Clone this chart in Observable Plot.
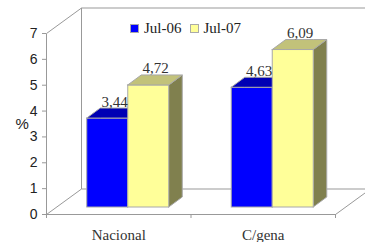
<!DOCTYPE html>
<html>
<head>
<meta charset="utf-8">
<script src="https://cdn.jsdelivr.net/npm/d3@7"></script>
<script src="https://cdn.jsdelivr.net/npm/@observablehq/plot@0.6"></script>
<style>
  html, body { margin: 0; padding: 0; background: #fff; }
  #wrap { position: relative; width: 365px; height: 242px; }
  #legend { position: absolute; left: 130px; top: 19px; font: 15px "Liberation Serif", serif; color: #222; display: flex; align-items: center; white-space: nowrap; line-height: 18px; }
  #legend .sw { display: inline-block; width: 7px; height: 7px; border: 1px solid #aaa; margin-right: 5px; }
  #legend .item { display: flex; align-items: center; margin-right: 8px; }
</style>
</head>
<body>
<div id="wrap"></div>
<script>
// ---- data ----
const categories = ["Nacional", "C/gena"];
const series = ["Jul-06", "Jul-07"];
const jul06 = [3.44, 4.63];
const jul07 = [4.72, 6.09];
const yTicks = [0, 1, 2, 3, 4, 5, 6, 7];

// ---- styling ----
const frontColors = ["#0000FF", "#FFFF99"];
const topColors = ["#0000B4", "#C2C27A"];
const sideColors = ["#000090", "#80804E"];
const edge = "#A8A8A8";
const wallColor = "#999";
const serif = "'Liberation Serif', 'Times New Roman', serif";
const sans = "'Liberation Sans', Arial, sans-serif";

const W = 365, H = 242;
const mL = 46, mR = 30, mT = 33, mB = 28;
const kx = (W - mL - mR) / 2;         // px per x unit
const ky = (H - mT - mB) / 7;         // px per y unit
const WX = 35 / kx, WY = 25.5 / ky;   // wall depth in data units
const BX = 13.5 / kx, BY = 10 / ky;   // bar depth
const BW = 41 / kx;                   // bar width
const OFFX = 9.5, OFFY = -7;          // bar front-face placement inside the depth

const values = [jul06, jul07];
const bars = [];
series.forEach((s, j) => {
  categories.forEach((c, i) => {
    const x1 = i + 0.5 + (j - 1) * BW;
    bars.push({id: c + s, cat: c, series: s, j, value: values[j][i], x1, x2: x1 + BW});
  });
});

function sidePts(b) {
  return [
    {id: b.id, x: b.x2, y1: 0, y2: b.value},
    {id: b.id, x: b.x2 + BX, y1: BY, y2: b.value + BY}
  ];
}
function topPts(b) {
  const t = b.value;
  return [
    {id: b.id, x: b.x1, y1: t, y2: t},
    {id: b.id, x: b.x1 + BX, y1: t, y2: t + BY},
    {id: b.id, x: b.x2, y1: t, y2: t + BY},
    {id: b.id, x: b.x2 + BX, y1: t + BY, y2: t + BY}
  ];
}

const walls = [
  [0, 0, 0, 7],
  [0, 7, WX, 7 + WY],
  [WX, WY, WX, 7 + WY],
  [WX, 7 + WY, 2 + WX, 7 + WY],
  [0, 0, 2, 0],
  [0, 0, WX, WY],
  [WX, WY, 2 + WX, WY],
  [2, 0, 2 + WX, WY]
];

const barMarks = [];
series.forEach((s, j) => {
  const bs = bars.filter(b => b.j === j);
  barMarks.push(
    Plot.areaY(bs.flatMap(sidePts), {x: "x", y1: "y1", y2: "y2", z: "id", fill: sideColors[j], stroke: edge, strokeWidth: 1, dx: OFFX, dy: OFFY}),
    Plot.rect(bs, {x1: "x1", x2: "x2", y1: 0, y2: "value", fill: frontColors[j], stroke: edge, strokeWidth: 1, dx: OFFX, dy: OFFY}),
    Plot.areaY(bs.flatMap(topPts), {x: "x", y1: "y1", y2: "y2", z: "id", fill: topColors[j], stroke: edge, strokeWidth: 1, dx: OFFX, dy: OFFY})
  );
});

const fmt = v => v.toFixed(2).replace(".", ",");

const chart = Plot.plot({
  width: W,
  height: H,
  marginLeft: mL,
  marginRight: mR,
  marginTop: mT,
  marginBottom: mB,
  x: {domain: [0, 2], axis: null},
  y: {domain: [0, 7], axis: null},
  style: {background: "#fff", overflow: "visible"},
  marks: [
    Plot.link(walls, {x1: d => d[0], y1: d => d[1], x2: d => d[2], y2: d => d[3], stroke: wallColor, strokeWidth: 1}),
    Plot.ruleY(yTicks, {x1: 0, x2: -4 / kx, stroke: wallColor}),
    Plot.ruleX([0, 1, 2], {y1: 0, y2: -4 / ky, stroke: wallColor}),
    Plot.axisY({ticks: yTicks, tickFormat: d => String(d), tickSize: 0, tickPadding: 9, fontSize: 14, fontFamily: sans, color: "#222", label: null}),
    Plot.axisX({ticks: [0.5, 1.5], tickFormat: d => categories[Math.floor(d)], tickSize: 0, tickPadding: 15, fontSize: 15, fontFamily: serif, color: "#333", label: null}),
    Plot.text(["%"], {frameAnchor: "left", dx: -31, fontSize: 15, fontFamily: sans, fill: "#222"}),
    ...barMarks,
    Plot.text(bars, {x: b => (b.x1 + b.x2) / 2 + BX / 2, y: b => b.value + BY, text: b => fmt(b.value), lineAnchor: "bottom", dx: OFFX, dy: OFFY - 2, fontSize: 15, fontFamily: serif, fill: "#333"})
  ]
});

const wrap = document.getElementById("wrap");
wrap.appendChild(chart);

const legend = document.createElement("div");
legend.id = "legend";
series.forEach((s, j) => {
  const item = document.createElement("span");
  item.className = "item";
  const sw = document.createElement("span");
  sw.className = "sw";
  sw.style.background = frontColors[j];
  item.appendChild(sw);
  item.appendChild(document.createTextNode(s));
  legend.appendChild(item);
});
wrap.appendChild(legend);
</script>
</body>
</html>
